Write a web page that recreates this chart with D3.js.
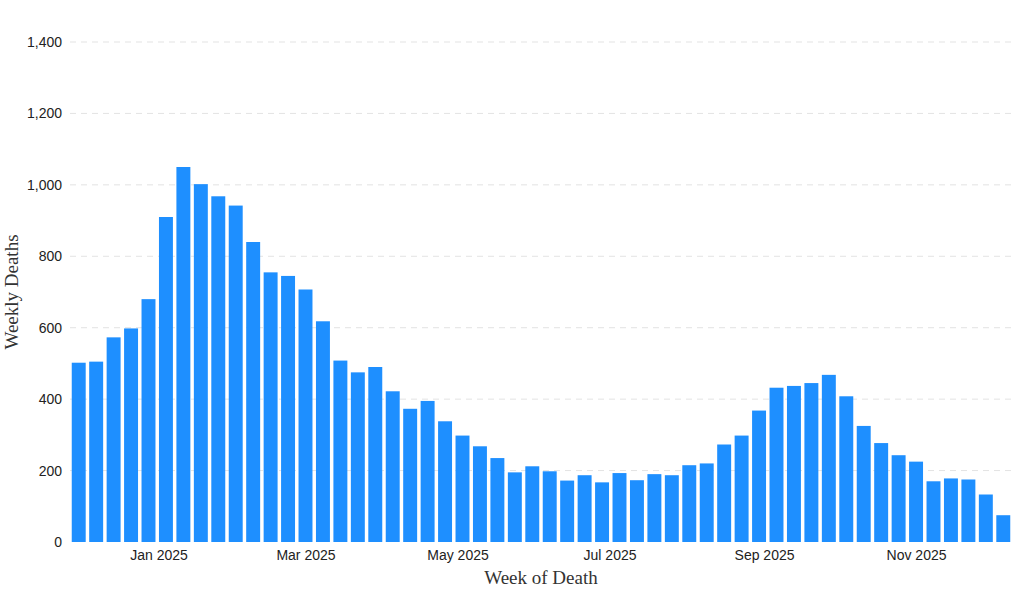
<!DOCTYPE html>
<html><head><meta charset="utf-8">
<script src="https://cdn.jsdelivr.net/npm/d3@7"></script>
<style>body{margin:0;background:#fff}svg{font-family:"Liberation Serif","Times New Roman",serif}</style>
</head><body><svg id="c" width="1024" height="590"></svg>
<script>
const startWeek = "2024-11-30";
const deaths = [502,505,573,598,680,910,1050,1002,968,942,840,755,745,707,618,508,475,490,422,373,395,338,298,268,235,195,212,198,172,187,167,193,173,190,187,215,220,273,298,368,432,437,445,468,408,325,277,243,225,170,178,175,133,75];
const yTicks = [0,200,400,600,800,1000,1200,1400];

const parse = d3.timeParse("%Y-%m-%d");
const s = parse(startWeek);
const dates = deaths.map((d,i)=>d3.timeDay.offset(s,7*i));
const svg = d3.select("#c");
const L=70,R=1012,T=42,B=542;
const x = d3.scaleTime().domain([d3.timeHour.offset(dates[0],-84), d3.timeHour.offset(dates[dates.length-1],84)]).range([L,R]);
const y = d3.scaleLinear().domain([0,1400]).range([B,T]);
const bw = (x(dates[1])-x(dates[0]))*0.8;

svg.append("g").selectAll("line").data(yTicks.slice(1)).join("line")
 .attr("x1",L).attr("x2",R).attr("y1",d=>y(d)).attr("y2",d=>y(d))
 .attr("stroke","#e3e3e3").attr("stroke-dasharray","6,5");
svg.append("g").selectAll("rect").data(deaths).join("rect")
 .attr("x",(d,i)=>x(dates[i])-bw/2).attr("width",bw)
 .attr("y",d=>y(d)).attr("height",d=>B-y(d)).attr("fill","#1e8fff");
const ya = svg.append("g").attr("transform",`translate(${L},0)`)
 .call(d3.axisLeft(y).tickValues(yTicks).tickFormat(d3.format(",")).tickSize(0).tickPadding(8));
ya.select(".domain").remove();
ya.selectAll("text").attr("font-size",14).attr("fill","#222").style("font-family","inherit");
const xa = svg.append("g").attr("transform",`translate(0,${B})`)
 .call(d3.axisBottom(x).ticks(d3.timeMonth.every(2)).tickFormat(d3.timeFormat("%b %Y")).tickSize(0).tickPadding(8));
xa.select(".domain").remove();
xa.selectAll("text").attr("font-size",14).attr("fill","#222").style("font-family","inherit");
svg.append("text").attr("x",(L+R)/2).attr("y",584).attr("text-anchor","middle").attr("font-size",19).attr("fill","#333").text("Week of Death");
svg.append("text").attr("transform",`translate(18,${(T+B)/2}) rotate(-90)`).attr("text-anchor","middle").attr("font-size",19).attr("fill","#333").text("Weekly Deaths");
</script></body></html>
